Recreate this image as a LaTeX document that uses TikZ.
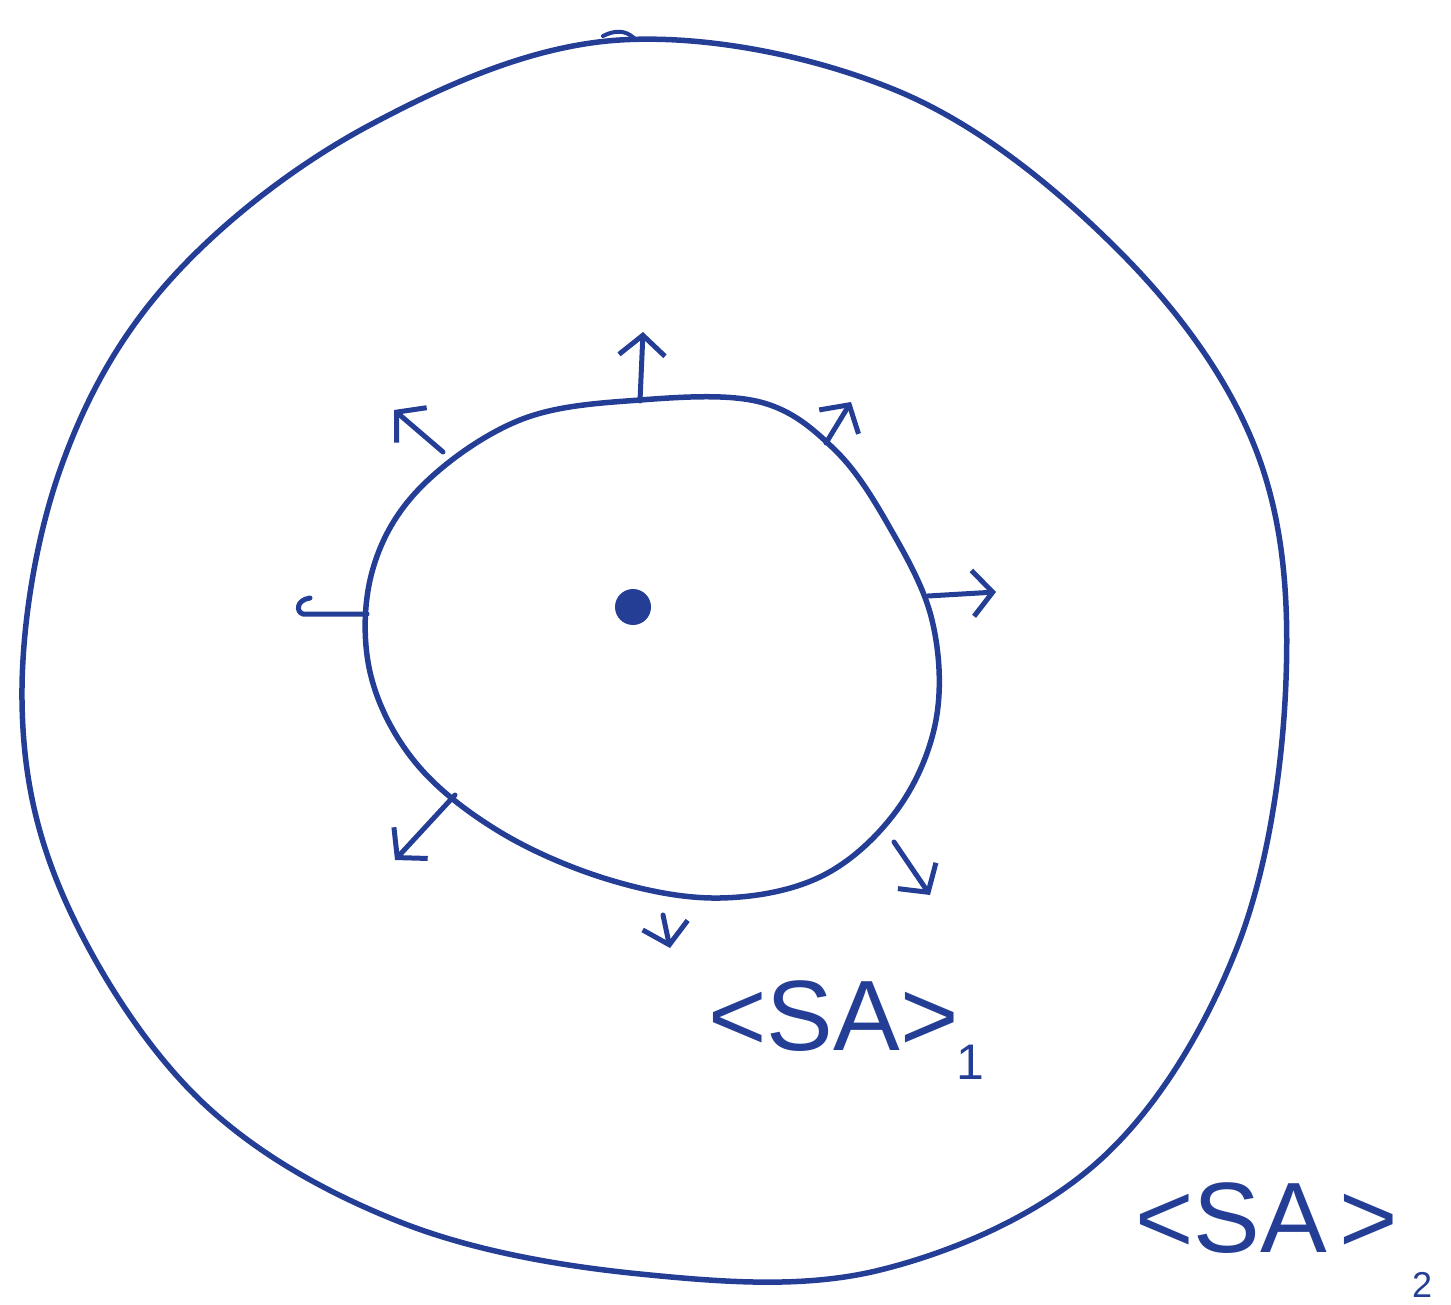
\documentclass[tikz,border=0pt]{standalone}
\usepackage{fontspec}
\setmainfont{Liberation Sans}
\usetikzlibrary{arrows.meta}
\definecolor{ink}{RGB}{36,62,150}
\begin{document}
\begin{tikzpicture}[x=1pt,y=-1pt, line cap=round, line join=round,
  pen/.style={draw=ink, line width=5.5pt},
  ray/.style={draw=ink, line width=5pt, -{Straight Barb[length=20pt,width=46pt]}},
  lab/.style={text=ink, font=\fontsize{100}{110}\selectfont, inner sep=0pt, anchor=base west},
  sub/.style={text=ink, font=\fontsize{50}{55}\selectfont, inner sep=0pt}]
\useasboundingbox (0,0) rectangle (1451,1305);
% outer loop
\draw[pen] plot[smooth cycle, tension=0.6] coordinates {(620,40) (900,92) (1120,252) (1256,450) (1286,680) (1238,945) (1100,1160) (880,1270) (640,1274) (400,1222) (200,1100) (65,900) (22,700) (60,470) (170,280) (370,125)};
% small jog at the top of the outer loop
\draw[pen, line width=4pt] (603,36) .. controls (615,30) and (625,30) .. (634,38);
% inner loop
\draw[pen] plot[smooth cycle, tension=0.6] coordinates {(640,400) (760,402) (835,450) (890,528) (932,620) (936,720) (897,810) (822,876) (720,898) (610,880) (500,832) (415,762) (370,672) (372,572) (420,488) (520,420)};
% centre point
\node[circle, fill=ink, minimum size=36pt, inner sep=0pt] (centre) at (633,607) {};
% ray coordinates
\coordinate (r1s) at (640,401);  \coordinate (r1e) at (643,332);
\coordinate (r2s) at (443,452);  \coordinate (r2e) at (394,410);
\coordinate (r3s) at (826,443);  \coordinate (r3e) at (851,402);
\coordinate (r4s) at (928,596);  \coordinate (r4e) at (996,592);
\coordinate (r5s) at (367,614);  \coordinate (r5e) at (303,614);
\coordinate (r6s) at (455,795);  \coordinate (r6e) at (395,860);
\coordinate (r7s) at (663,915);  \coordinate (r7e) at (670,948);
\coordinate (r8s) at (894,842);  \coordinate (r8e) at (930,895);
\foreach \i in {1,2,3,4,6,7,8} \draw[ray] (r\i s) -- (r\i e);
\draw[pen, line width=5pt] (r5s) -- (r5e) .. controls (296,612) and (296,600) .. (310,598);
% labels
\node[lab] (sa1) at (708,1050) {<SA>};
\node[sub] (sa1sub) at (970,1062) {1};
\node[lab] (sa2) at (1135,1252) {<SA\hspace{12pt}>};
\node[sub, font=\fontsize{36}{40}\selectfont] (sa2sub) at (1422,1285) {2};
\end{tikzpicture}
\end{document}
